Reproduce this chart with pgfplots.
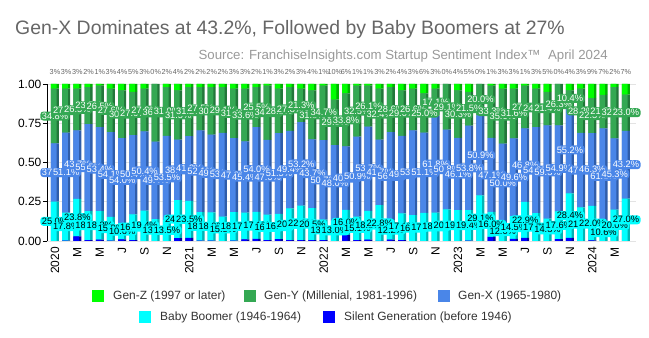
\documentclass[border=0pt]{standalone}
\usepackage{pgfplots}
\usepackage{pgfplotstable}
\pgfplotsset{compat=1.18}
\usepackage{fontspec}
\setmainfont{Liberation Sans}
\definecolor{cZ}{HTML}{00FF00}
\definecolor{cY}{HTML}{34A853}
\definecolor{cX}{HTML}{4A86E8}
\definecolor{cB}{HTML}{00FFFF}
\definecolor{cS}{HTML}{0000FF}
\definecolor{dZ}{HTML}{00B000}
\definecolor{dY}{HTML}{22773A}
\definecolor{dX}{HTML}{2F5DAA}
\definecolor{dB}{HTML}{00B4B4}
\definecolor{dS}{HTML}{0000A0}
\definecolor{ttl}{HTML}{666666}
\definecolor{src}{HTML}{999999}
\definecolor{leg}{HTML}{333333}

\pgfplotstableread{
x S B X Y Z
0 0.0 25.0 37.2 34.8 3
1 0.2 17.8 51.1 27.9 3
2 3.0 23.8 43.7 26.5 3
3 0.5 18.5 55.5 23.5 2
4 0.8 18.3 53.4 26.5 1
5 0.3 15.0 54.1 27.6 3
6 1.0 10.6 54.0 30.4 4
7 0.6 16.4 50.4 27.6 5
8 0.0 19.4 50.4 27.2 3
9 0.0 13.9 49.4 36.7 0
10 0.0 13.5 53.5 31.0 2
11 1.8 24.3 38.4 31.5 4
12 2.0 23.5 41.3 31.2 2
13 0.3 18.1 52.1 27.5 2
14 0.3 18.0 49.5 30.2 2
15 0.0 15.5 53.4 29.1 2
16 0.3 18.1 47.2 31.4 3
17 1.0 17.0 45.4 33.6 3
18 1.4 17.1 54.0 25.5 2
19 0.6 16.2 47.6 34.6 1
20 1.2 16.0 51.5 28.3 3
21 0.5 20.3 49.4 27.8 2
22 0.5 22.0 53.2 21.3 3
23 0.5 20.5 43.7 31.3 4
24 0.5 13.1 50.7 34.7 1
25 0.0 13.0 48.0 29.0 10
26 3.9 16.0 40.3 33.8 6
27 0.5 15.1 50.9 32.5 1
28 0.9 18.3 53.7 26.1 1
29 0.1 22.8 41.7 32.4 3
30 0.8 12.2 56.4 28.6 2
31 0.5 17.1 49.4 29.0 4
32 0.0 16.5 53.9 26.6 3
33 0.0 17.9 51.1 25.0 6
34 0.0 18.1 61.8 17.1 3
35 0.0 20.1 50.8 29.1 0
36 0.0 19.6 46.1 30.3 4
37 0.3 19.4 53.8 21.5 5
38 0.0 29.1 50.9 20.0 0
39 2.6 16.0 47.1 33.3 1
40 0.0 12.0 50.0 35.0 3
41 1.3 14.5 49.6 31.6 3
42 2.0 22.9 46.8 27.3 1
43 0.0 17.7 54.8 24.5 3
44 0.0 14.3 59.3 21.4 5
45 1.2 17.6 54.9 26.3 0
46 2.0 28.4 55.2 10.4 4
47 0.0 21.4 47.4 28.2 3
48 0.4 22.0 46.3 22.3 9
49 0.0 10.6 61.1 21.3 7
50 0.0 20.0 45.3 32.7 2
51 0.0 27.0 43.2 23.0 6.8
}\data
\pgfplotstablecreatecol[create col/expr={\thisrow{S}+\thisrow{B}/2}]{Bm}\data
\pgfplotstablecreatecol[create col/expr={\thisrow{S}+\thisrow{B}+\thisrow{X}/2}]{Xm}\data
\pgfplotstablecreatecol[create col/expr={\thisrow{S}+\thisrow{B}+\thisrow{X}+\thisrow{Y}/2}]{Ym}\data
\pgfplotstablecreatecol[create col/expr={107.6}]{Zt}\data

\pgfplotsset{
  base/.style={
    at={(47bp,97bp)}, anchor=south west,
    width=589bp, height=157bp, scale only axis,
    xmin=-0.714, xmax=51.9, ymin=0, ymax=100,
  },
  lbl/.style={
    draw=none, point meta=explicit,
    nodes near coords={\pgfmathprintnumber[fixed,fixed zerofill,precision=1,assume math mode=true]{\pgfplotspointmeta}\%},
    nodes near coords align={center},
    every node near coord/.append style={anchor=center, rounded corners=3bp,
      inner xsep=1.5bp, inner ysep=1.2bp, font=\fontsize{9.3}{10}\selectfont},
  },
}

\begin{document}
\begin{tikzpicture}
% dark sides + grid
\begin{axis}[base, ybar stacked, bar width=8bp,
  ymajorgrids, grid style={gray!22, line width=0.6pt},
  ytick={0,25,50,75,100}, yticklabel={\relax}, xtick=\empty,
  major tick length=0pt, axis line style={draw=none}]
\addplot[fill=dS, draw=none] table[x=x,y=S]{\data};
\addplot[fill=dB, draw=none] table[x=x,y=B]{\data};
\addplot[fill=dX, draw=none] table[x=x,y=X]{\data};
\addplot[fill=dY, draw=none] table[x=x,y=Y]{\data};
\addplot[fill=dZ, draw=none] table[x=x,y=Z]{\data};
\end{axis}
% front faces
\begin{axis}[base, ybar stacked, bar width=5.6bp, bar shift=-1.2bp,
  axis x line*=bottom, axis y line*=left,
  x axis line style={draw=none}, y axis line style={line width=0.8pt, black},
  xtick={0,2,...,50},
  xticklabels={2020,M,M,J,S,N,2021,M,M,J,S,N,2022,M,M,J,S,N,2023,M,M,J,S,N,2024,M},
  xtick style={draw=none},
  xticklabel style={rotate=90, anchor=east, inner sep=2bp, font=\fontsize{12}{12}\selectfont},
  ytick={0,25,50,75,100}, yticklabels={0.00,0.25,0.50,0.75,1.00},
  ytick style={draw=black, line width=0.6pt}, tick align=outside, major tick length=4bp,
  yticklabel style={inner sep=1.5bp, font=\fontsize{12}{12}\selectfont},
]
\addplot[fill=cS, draw=none] table[x=x,y=S]{\data};
\addplot[fill=cB, draw=none] table[x=x,y=B]{\data};
\addplot[fill=cX, draw=none] table[x=x,y=X]{\data};
\addplot[fill=cY, draw=none] table[x=x,y=Y]{\data};
\addplot[fill=cZ, draw=none] table[x=x,y=Z]{\data};
\end{axis}
% data labels
\begin{axis}[base, hide axis, clip=false]
\addplot[lbl, every node near coord/.append style={fill=cB, text=black}] table[x=x,y=Bm,meta=B]{\data};
\addplot[lbl, every node near coord/.append style={fill=cX, text=white}] table[x=x,y=Xm,meta=X]{\data};
\addplot[lbl, every node near coord/.append style={fill=cY, text=white}] table[x=x,y=Ym,meta=Y]{\data};
\addplot[draw=none, point meta=explicit,
  nodes near coords={\pgfmathprintnumber[fixed,precision=0,assume math mode=true]{\pgfplotspointmeta}\%},
  nodes near coords align={center},
  every node near coord/.append style={anchor=center, inner sep=0pt, text=ttl, font=\fontsize{7.3}{8}\selectfont}]
  table[x=x,y=Zt,meta=Z]{\data};
\end{axis}
% titles
\node[anchor=base west, inner sep=0, text=ttl, font=\fontsize{19.5}{20}\selectfont] at (15bp,303bp)
  {Gen-X Dominates at 43.2\%, Followed by Baby Boomers at 27\%};
\node[anchor=base east, inner sep=0, text=src, font=\fontsize{13.3}{14}\selectfont] at (608bp,278bp)
  {Source: FranchiseInsights.com Startup Sentiment Index™\ \ April 2024};
% legend
\begin{scope}[every node/.style={anchor=west, inner sep=0, text=leg, font=\fontsize{12}{13}\selectfont}]
\fill[cZ] (92bp,36bp) rectangle ++(12bp,12bp);
\node at (113bp,42bp) {Gen-Z (1997 or later)};
\fill[cY] (244bp,36bp) rectangle ++(12bp,12bp);
\node at (264bp,42bp) {Gen-Y (Millenial, 1981-1996)};
\fill[cX] (438bp,36bp) rectangle ++(12bp,12bp);
\node at (458bp,42bp) {Gen-X (1965-1980)};
\fill[cB] (139bp,15bp) rectangle ++(12bp,12bp);
\node at (160bp,21bp) {Baby Boomer (1946-1964)};
\fill[cS] (323bp,15bp) rectangle ++(12bp,12bp);
\node at (344bp,21bp) {Silent Generation (before 1946)};
\end{scope}
\pgfresetboundingbox
\useasboundingbox (0,0) rectangle (649bp,338bp);
\end{tikzpicture}
\end{document}
